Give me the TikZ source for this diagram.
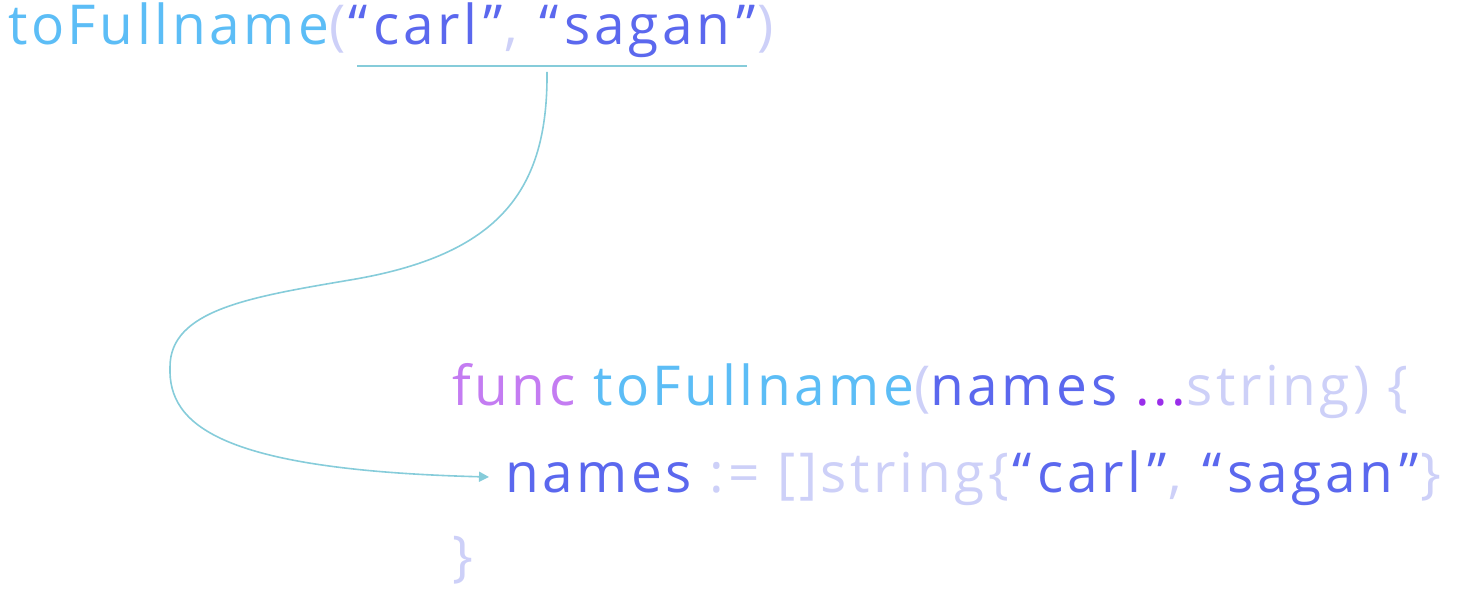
\documentclass[tikz,border=0pt]{standalone}
\usepackage{fontspec}
\setmainfont{Open Sans}[LetterSpace=6.5]
\usetikzlibrary{arrows.meta}
\definecolor{fnblue}{HTML}{5CBDF6}
\definecolor{strblue}{HTML}{5B68EE}
\definecolor{pale}{HTML}{CDD0F8}
\definecolor{kwpurple}{HTML}{C47CF2}
\definecolor{dots}{HTML}{9A2EEA}
\definecolor{teal}{HTML}{86CCDA}
\newcommand\qstr[1]{\textcolor{strblue}{\kern3pt“\kern6pt #1\kern6pt”\kern2pt}}
\tikzset{
  code/.style={anchor=base west, inner sep=0pt, font=\fontsize{55}{60}\selectfont},
  link/.style={draw=teal, line width=1.6pt, -{Triangle[width=10pt,length=10pt]}},
  uline/.style={draw=teal, line width=2pt}
}
\begin{document}
\begin{tikzpicture}[x=1pt,y=-1pt]
\useasboundingbox (0,0) rectangle (1458,596);
\node[code] (call) at (8,45) {\textcolor{fnblue}{toFullname}\textcolor{pale}{(}\qstr{carl}\textcolor{pale}{,} \qstr{sagan}\textcolor{pale}{)}};
\node[code] (sig) at (452,405) {\textcolor{kwpurple}{func} \textcolor{fnblue}{toFullname}\textcolor{pale}{(}\textcolor{strblue}{names} \textcolor{dots}{...}\textcolor{pale}{string) \{}};
\node[code] (body) at (505,492) {\textcolor{strblue}{names} \textcolor{pale}{:= []string\{}\qstr{carl}\textcolor{pale}{,} \qstr{sagan}\textcolor{pale}{\}}};
\node[code] (close) at (452,575) {\textcolor{pale}{\}}};
\coordinate (ulL) at (357,66);
\coordinate (ulR) at (747,66);
\coordinate (ulM) at (547,72);
\coordinate (tip) at (489,477);
\draw[uline] (ulL) -- (ulR);
\draw[link] (ulM) .. controls (548,190) and (500,255) .. (350,280)
  .. controls (250,297) and (170,310) .. (170,367)
  .. controls (168,425) and (220,470) .. (tip);
\end{tikzpicture}
\end{document}
